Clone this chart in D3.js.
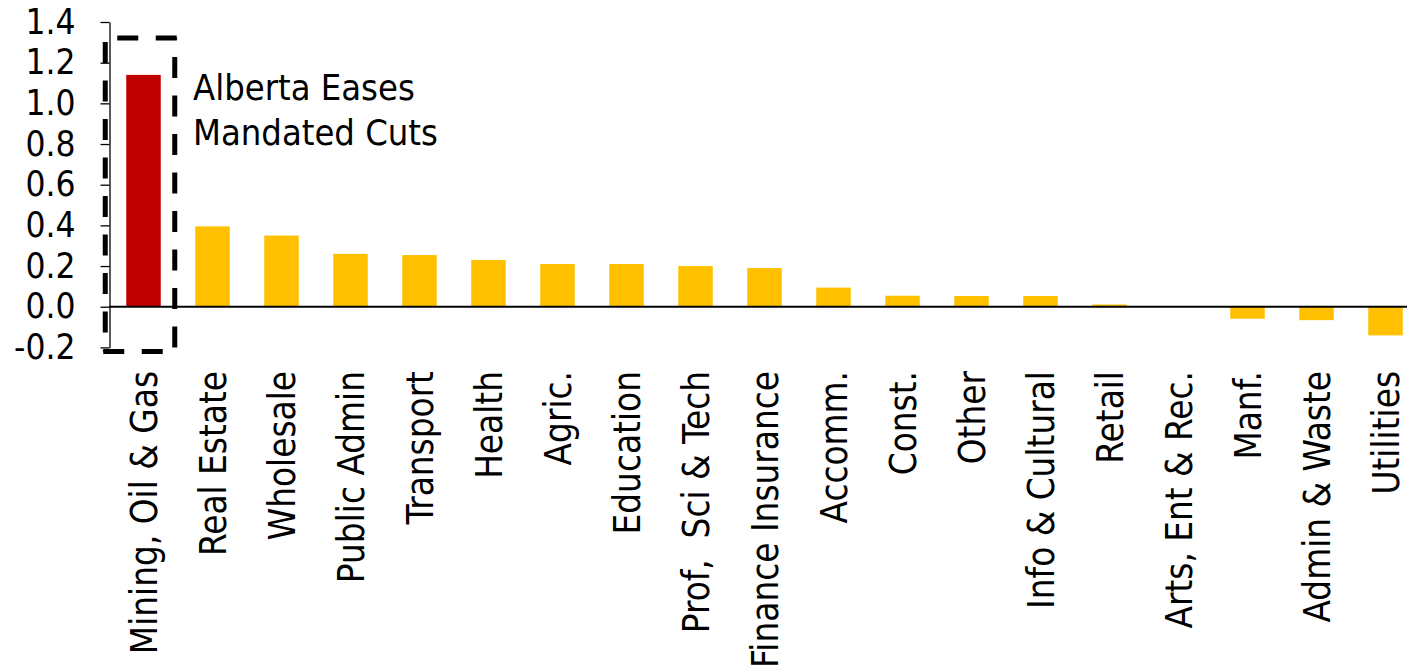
<!DOCTYPE html>
<html>
<head>
<meta charset="utf-8">
<script src="https://cdn.jsdelivr.net/npm/d3@7"></script>
<style>
  html, body { margin: 0; padding: 0; background: #fff; }
  svg { display: block; }
  text { font-family: "DejaVu Sans Condensed", "DejaVu Sans", sans-serif; fill: #000; }
</style>
</head>
<body>
<svg id="chart" width="1407" height="671"></svg>
<script>
// Sectors, ordered by change (percentage points)
const categories = [
  "Mining, Oil & Gas", "Real Estate", "Wholesale", "Public Admin", "Transport",
  "Health", "Agric.", "Education", "Prof,  Sci & Tech", "Finance Insurance",
  "Accomm.", "Const.", "Other", "Info & Cultural", "Retail",
  "Arts, Ent & Rec.", "Manf.", "Admin & Waste", "Utilities"
];
const values = [
  1.14, 0.395, 0.35, 0.26, 0.254,
  0.23, 0.21, 0.21, 0.20, 0.19,
  0.094, 0.054, 0.053, 0.053, 0.011,
  0.002, -0.059, -0.066, -0.141
];
const highlighted = ["Mining, Oil & Gas"];
const tickValues = [-0.2, 0.0, 0.2, 0.4, 0.6, 0.8, 1.0, 1.2, 1.4];
const annotationLines = ["Alberta Eases", "Mandated Cuts"];

const svg = d3.select("#chart");

const x = d3.scaleBand()
  .domain(categories)
  .range([109, 1420])
  .paddingInner(0.5)
  .paddingOuter(0.25);

const y = d3.scaleLinear()
  .domain([-0.2, 1.4])
  .range([347.4, 22]);

// bars
svg.append("g")
  .selectAll("rect")
  .data(categories.map((c, i) => ({ c, v: values[i] })))
  .join("rect")
  .attr("x", d => x(d.c))
  .attr("width", x.bandwidth())
  .attr("y", d => y(Math.max(0, d.v)))
  .attr("height", d => Math.abs(y(d.v) - y(0)))
  .attr("fill", d => highlighted.includes(d.c) ? "#C00000" : "#FFC000");

// zero line
svg.append("line")
  .attr("x1", 109).attr("x2", 1407)
  .attr("y1", y(0)).attr("y2", y(0))
  .attr("stroke", "#000")
  .attr("stroke-width", 2);

// value axis
const yAxis = d3.axisLeft(y)
  .tickValues(tickValues)
  .tickFormat(d => d.toFixed(1))
  .tickSizeInner(9)
  .tickSizeOuter(0)
  .tickPadding(25);

const gy = svg.append("g")
  .attr("transform", "translate(109.5,0)")
  .call(yAxis);
gy.select(".domain").attr("stroke", "#000").attr("stroke-width", 1.3);
gy.selectAll(".tick line").attr("stroke", "#000").attr("stroke-width", 1.3);
gy.selectAll(".tick text")
  .attr("font-size", 35)
  .attr("font-family", null)
  .attr("fill", "#000");

// category labels, rotated
svg.append("g")
  .selectAll("text")
  .data(categories)
  .join("text")
  .attr("transform", d => `translate(${x(d) + x.bandwidth() / 2 + 13},371) rotate(-90)`)
  .attr("text-anchor", "end")
  .attr("font-size", 36.5)
  .style("white-space", "pre")
  .text(d => d);

// dashed frame around the highlighted sector
const hx = x(highlighted[0]);
const box = {
  left: hx - 21,
  right: hx + x.bandwidth() + 14,
  top: y(1.4) + 16,
  bottom: y(-0.2) + 4
};
const frame = svg.append("g")
  .attr("stroke", "#000")
  .attr("stroke-width", 5)
  .attr("stroke-dasharray", "21 17.5")
  .attr("fill", "none");
frame.append("line")
  .attr("x1", box.left).attr("x2", box.right + 2.5)
  .attr("y1", box.top).attr("y2", box.top)
  .attr("stroke-dashoffset", -12);
frame.append("line")
  .attr("x1", box.right).attr("x2", box.right)
  .attr("y1", box.top).attr("y2", box.bottom)
  .attr("stroke-dashoffset", 19.5);
frame.append("line")
  .attr("x1", box.left - 2).attr("x2", box.right)
  .attr("y1", box.bottom).attr("y2", box.bottom)
  .attr("stroke-dashoffset", 0);
frame.append("line")
  .attr("x1", box.left).attr("x2", box.left)
  .attr("y1", box.top - 2).attr("y2", box.bottom)
  .attr("stroke-dashoffset", 32.5);

// annotation
const note = svg.append("text")
  .attr("font-size", 36)
  .attr("x", 193);
note.selectAll("tspan")
  .data(annotationLines)
  .join("tspan")
  .attr("x", 193)
  .attr("y", (d, i) => 100 + i * 45)
  .text(d => d);
</script>
</body>
</html>
